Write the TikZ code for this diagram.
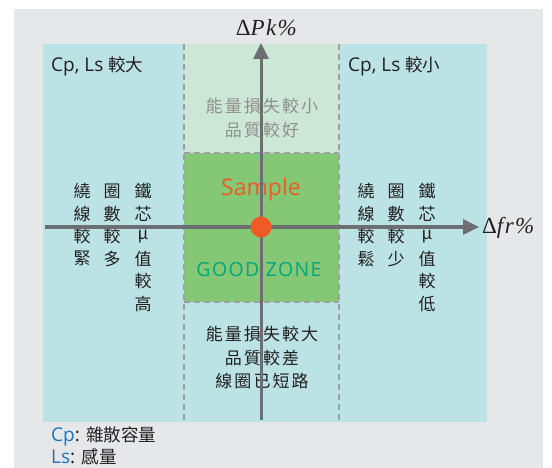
\documentclass[tikz,border=0pt]{standalone}
\usepackage{fontspec}
\setmainfont{Open Sans}
\newfontfamily\cjk[LetterSpace=12]{Noto Sans CJK TC}
\newfontfamily\cjkv{Noto Sans CJK TC}
\newfontfamily\wide[LetterSpace=7]{Open Sans}
\newfontfamily\lserif[LetterSpace=6]{Liberation Serif}
\newcommand{\cjks}[1]{{\cjkv\fontsize{17.5}{20}\selectfont #1}}
\usetikzlibrary{arrows.meta}
\definecolor{bggray}{HTML}{E6E7E9}
\definecolor{cyanbg}{HTML}{BBE3E6}
\definecolor{lgreen}{HTML}{CDE7D6}
\definecolor{goodgreen}{HTML}{84C775}
\definecolor{axisgray}{HTML}{6D6E71}
\definecolor{dashgray}{HTML}{9D9FA2}
\definecolor{orng}{HTML}{F15A24}
\definecolor{teal}{HTML}{00A67E}
\definecolor{txtgray}{HTML}{8F8F8F}
\definecolor{txtdark}{HTML}{231F20}
\definecolor{cpblue}{HTML}{1C75BC}
\tikzset{
  axisline/.style={draw=axisgray, line width=3pt, -{Triangle[length=16pt,width=15pt]}},
  zoneline/.style={draw=dashgray, line width=1.5pt, dash pattern=on 6pt off 4pt},
  vchar/.style={inner sep=0pt, font=\cjkv\fontsize{17}{20}\selectfont, text=txtdark},
  ztext/.style={inner sep=0pt, align=center, font=\cjk\fontsize{17}{23.5}\selectfont},
  corner/.style={inner sep=0pt, anchor=west, text=txtdark, font=\fontsize{19}{22}\selectfont},
  axlabel/.style={inner sep=0pt, text=txtdark, font=\lserif\fontsize{23}{26}\selectfont},
}
\begin{document}
\begin{tikzpicture}[x=1pt,y=-1pt]
\useasboundingbox (0,0) rectangle (552,468);
\fill[white] (0,0) rectangle (552,468);
\fill[bggray] (14,9) rectangle (543,468);
\fill[cyanbg] (43,44) rectangle (487,422);
\fill[lgreen] (184,44) rectangle (339,153);
\fill[goodgreen] (184,153) rectangle (339,302);
\draw[zoneline] (184,44) -- (184,422);
\draw[zoneline] (339,44) -- (339,422);
\draw[zoneline] (184,153) -- (339,153);
\draw[zoneline] (184,302) -- (339,302);

% corner labels
\node[corner] (cl) at (51,66) {Cp, Ls \cjks{較大}};
\node[corner] (cr) at (348,66) {Cp, Ls \cjks{較小}};

% zone texts
\node[ztext, text=txtgray] (top) at (262,118) {能量損失較小\\品質較好};
\node[ztext, text=txtdark] (bot) at (262,358) {能量損失較大\\品質較差\\線圈已短路};
\node[inner sep=0pt, text=orng, font=\fontsize{23}{26}\selectfont] (sample) at (261,190) {Sample};
\node[inner sep=0pt, text=teal, font=\wide\fontsize{19.5}{22}\selectfont] (good) at (259,270) {GOOD ZONE};

% vertical columns
\foreach \c [count=\i] in {繞,線,較,緊} \node[vchar] (la\i) at (82,{191+22.6*(\i-1)}) {\c};
\foreach \c [count=\i] in {圈,數,較,多} \node[vchar] (lb\i) at (112,{191+22.6*(\i-1)}) {\c};
\foreach \c [count=\i] in {鐵,芯,μ,值,較,高} \node[vchar] (lc\i) at (143,{191+22.6*(\i-1)}) {\c};
\foreach \c [count=\i] in {繞,線,較,鬆} \node[vchar] (ra\i) at (366,{191+22.6*(\i-1)}) {\c};
\foreach \c [count=\i] in {圈,數,較,少} \node[vchar] (rb\i) at (396,{191+22.6*(\i-1)}) {\c};
\foreach \c [count=\i] in {鐵,芯,μ,值,較,低} \node[vchar] (rc\i) at (427,{191+22.6*(\i-1)}) {\c};

% axes
\coordinate (xs) at (45,227);
\coordinate (xe) at (479,227);
\coordinate (ys) at (261,420);
\coordinate (ye) at (261,43);
\draw[axisline] (xs) -- (xe);
\draw[axisline] (ys) -- (ye);
\node[axlabel, anchor=west] (xl) at (482,228) {Δ\textit{fr\%}};
\node[axlabel] (yl) at (267,28) {Δ\textit{Pk\%}};
\fill[orng] (261,227) circle (10.5);
\node[inner sep=0pt, minimum size=21pt] (dot) at (261,227) {};

% legend
\node[corner] (lg1) at (51,436) {{\color{cpblue}Cp}: \cjks{雜散容量}};
\node[corner] (lg2) at (51,457) {{\color{cpblue}Ls}: \cjks{感量}};
\end{tikzpicture}
\end{document}
